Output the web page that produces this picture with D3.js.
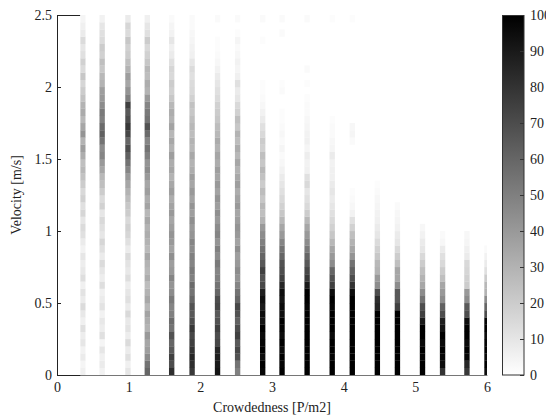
<!DOCTYPE html>
<html><head><meta charset="utf-8">
<script src="https://cdn.jsdelivr.net/npm/d3@7"></script>
<style>
body{margin:0;background:#fff}
svg{display:block}
</style>
</head><body>
<svg id="c" width="546" height="418"></svg>
<script>
// ---- data ----
const crowdedness = [0.36,0.63,0.99,1.26,1.60,1.885,2.24,2.52,2.87,3.14,3.49,3.84,4.12,4.47,4.75,5.10,5.38,5.72,6.0];
const velocityBins = [0,0.05,0.1,0.15,0.2,0.25,0.3,0.35,0.4,0.45,0.5,0.55,0.6,0.65,0.7,0.75,0.8,0.85,0.9,0.95,
  1.0,1.05,1.1,1.15,1.2,1.25,1.3,1.35,1.4,1.45,1.5,1.55,1.6,1.65,1.7,1.75,1.8,1.85,1.9,1.95,
  2.0,2.05,2.1,2.15,2.2,2.25,2.3,2.35,2.4,2.45];
const binWidth = 0.05;
// counts per crowdedness column, from lowest velocity bin upward (missing = 0)
const counts = [
  [6,4,8,5,10,7,12,6,9,14,8,11,6,13,9,7,10,5,8,12, 14,10,16,12,18,15,20,24, 28,25,32,38,30,42,35,28,33,30, 24,20,16,22,14,18, 12,10,14,8,6,4],
  [5,8,6,10,4,12,7,9,5,11,8,6,13,7,10,14,8,12,16,10, 12,15,10,18,14,20,25,28, 35,40,48,45,55,62,58,50,52,45, 40,38,30,28,22,25, 18,20,14,12,10,5],
  [10,6,12,8,14,7,11,9,15,8,12,10,7,13,9,11,14,8,12,16, 18,15,20,22,26,30,35,40, 48,55,62,70,60,72,78,70,65,75, 50,42,35,38,30,25, 20,18,22,14,16,8],
  [60,55,45,38,35,40,30,32,36,28,34,30,26,32,28,30,34,27,30,32, 30,34,28,36,32,38,35,40, 45,42,50,55,48,58,68,55,52,48, 40,30,32,26,28,22, 18,15,20,12,10,6],
  [82,70,75,65,60,68,55,58,50,48,52,45,42,48,40,38,44,36,40,42, 38,35,40,36,32,38,34,30, 35,32,38,30,34,28,36,30,32,28, 22,18,20,15,16,12, 8,6,10,5,4,2],
  [78,82,85,80,75,72,78,70,65,68,60,55,58,50,52,48,50,45,48,42, 40,44,38,42,36,40,35,38, 32,30,34,28,30,26,28,25,22,24, 18,15,14,12,14,10, 6,5,4,3,2,2],
  [92,90,88,85,72,70,75,68,65,72,70,60,55,50,48,52,45,50,42,48, 45,40,44,38,42,36,40,35, 38,32,35,30,33,28,26,22,20,18, 14,12,10,8,5,3, 2,1,1,0,0,2],
  [50,55,68,72,65,75,70,62,68,72,60,55,48,42,45,40,38,44,36,40, 42,38,35,40,36,32,38,34, 30,35,28,32,26,30,22,25,18,15, 10,8,12,6,4,5, 3,2,4,1,0,2],
  [98,100,95,100,98,96,100,92,95,90,94,88,72,68,75,65,60,55,50,45, 40,30,25,28,22,26,20,24, 28,22,25,18,20,15,12,8,5,3, 2,1,1,0,0,0, 0,0,1,0,0,2],
  [100,98,100,96,100,95,98,100,94,96,92,95,85,75,70,68,60,55,48,40, 35,28,22,18,15,12,10,8, 5,3,2,4,2,3,2,1,1,0, 0,2,1,0,0,0, 0,0,0,2,0,2],
  [100,100,100,100,100,100,100,100,100,98,100,100,90,78,72,65,60,52,45,40, 35,28,20,15,12,10,15,12, 6,5,7,4,6,5,4,3,2,2, 1,0,1,0,2,0, 0,0,0,0,0,2],
  [100,100,98,100,100,96,100,100,100,98,100,95,75,68,60,45,40,35,28,22, 18,15,12,10,8,10,8,6, 6,5,8,4,3,2,2,1,0,0, 0,0,0,0,0,0, 0,0,0,0,0,1],
  [100,100,100,100,100,100,100,100,100,100,100,95,80,70,62,55,42,35,30,25, 18,12,5,3,2,1,0,0, 0,0,0,0,2,4,3,0,0,0, 0,0,0,0,0,0, 0,0,0,0,0,1],
  [100,100,100,100,100,100,100,100,100,85,82,70,45,40,30,28,22,18,14,10, 8,6,5,4,3,2,1],
  [100,100,100,100,100,100,100,100,100,75,65,65,45,35,35,25,20,15,10,8, 5,4,3,2],
  [100,100,98,100,96,100,100,90,75,70,55,45,35,30,25,20,15,10,8,5, 3],
  [80,95,98,100,96,100,92,88,70,62,45,40,35,25,20,15,12,8,3,2],
  [78,85,98,100,96,100,100,95,70,65,45,40,20,18,16,15,8,6,4,3],
  [95,100,96,100,98,95,100,98,70,60,45,30,28,20,12,8,5,2]
];
const xTicks = [0,1,2,3,4,5,6];
const yTicks = [0,0.5,1,1.5,2,2.5];
const colorTicks = [0,10,20,30,40,50,60,70,80,90,100];
const colWidth = 0.075;
const imageStart = 0.325;
const FONT = "'Liberation Serif', 'Times New Roman', Times, serif";

// ---- scales ----
const svg = d3.select("#c");
const x = d3.scaleLinear().domain([0,6]).range([57,487]);
const y = d3.scaleLinear().domain([0,2.5]).range([375,15]);
const color = d3.scaleLinear().domain([0,100]).range(["#ffffff","#000000"]).clamp(true);
const cScale = d3.scaleLinear().domain([0,100]).range([375,15]);

// ---- axes (box) ----
const yAxis = svg.append("g").attr("transform","translate(57,0)")
  .call(d3.axisLeft(y).tickValues(yTicks).tickFormat(d3.format("")).tickSize(-4).tickSizeOuter(0).tickPadding(5));
const xAxis = svg.append("g").attr("transform","translate(0,375)")
  .call(d3.axisBottom(x).tickValues(xTicks).tickFormat(d3.format("")).tickSize(-4).tickSizeOuter(0).tickPadding(7));
svg.append("line").attr("x1",57).attr("x2",487).attr("y1",15.5).attr("y2",15.5).attr("stroke","#222");
svg.append("line").attr("x1",486.5).attr("x2",486.5).attr("y1",15).attr("y2",375).attr("stroke","#222");
[yAxis,xAxis].forEach(g=>{
  g.attr("font-family",FONT).attr("font-size",14);
  g.selectAll("path").attr("stroke","#222");
  g.selectAll("line").attr("stroke","#222");
  g.selectAll("text").attr("fill","#222");
});

// ---- heatmap image ----
svg.append("defs").append("clipPath").attr("id","plotclip").append("rect")
  .attr("x",x(imageStart)).attr("y",y(2.5)).attr("width",x(6)-x(imageStart)).attr("height",y(0)-y(2.5));
svg.append("rect").attr("x",x(imageStart)).attr("y",y(2.5)-1).attr("width",x(6)-x(imageStart)+1.5)
  .attr("height",y(0)-y(2.5)+1.5).attr("fill","#fff");

const cells = [];
crowdedness.forEach((c,i)=>{
  velocityBins.forEach((v,j)=>{
    const n = counts[i][j] || 0;
    if (n > 0) cells.push({c, v, n});
  });
});
svg.append("g").attr("clip-path","url(#plotclip)")
  .selectAll("rect").data(cells).join("rect")
  .attr("x",d=>x(d.c-colWidth/2))
  .attr("width",x(colWidth)-x(0))
  .attr("y",d=>y(d.v+binWidth))
  .attr("height",y(0)-y(binWidth)+0.2)
  .attr("fill",d=>color(d.n));
svg.append("line").attr("x1",x(imageStart)).attr("x2",x(6)).attr("y1",375.5).attr("y2",375.5)
  .attr("stroke","#000").attr("stroke-opacity",0.18);

// ---- colorbar ----
const grad = svg.select("defs").append("linearGradient").attr("id","cbgrad")
  .attr("x1",0).attr("y1",1).attr("x2",0).attr("y2",0);
grad.append("stop").attr("offset","0%").attr("stop-color",color(0));
grad.append("stop").attr("offset","100%").attr("stop-color",color(100));
svg.append("rect").attr("x",502.5).attr("y",15.5).attr("width",21.5).attr("height",359.5)
  .attr("fill","url(#cbgrad)").attr("stroke","#333");
const cAxis = svg.append("g").attr("transform","translate(524,0)")
  .call(d3.axisRight(cScale).tickValues(colorTicks).tickSize(-4).tickPadding(6));
cAxis.attr("font-family",FONT).attr("font-size",14);
cAxis.select("path").remove();
cAxis.selectAll("line").attr("stroke","#333");
cAxis.selectAll("text").attr("fill","#222");

// ---- titles ----
svg.append("text").attr("x",272).attr("y",412).attr("text-anchor","middle")
  .attr("font-family",FONT).attr("font-size",14).attr("fill","#222").text("Crowdedness [P/m2]");
svg.append("text").attr("transform","translate(21,195) rotate(-90)").attr("text-anchor","middle")
  .attr("font-family",FONT).attr("font-size",14).attr("fill","#222").text("Velocity [m/s]");
</script>
</body></html>
